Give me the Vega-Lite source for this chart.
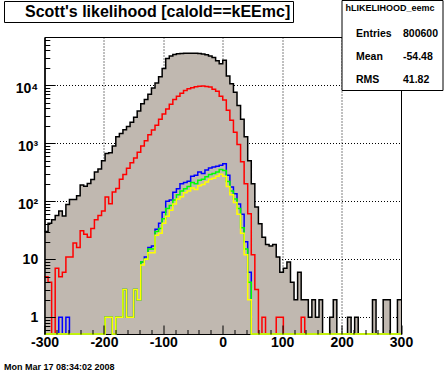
{
  "$schema": "https://vega.github.io/schema/vega-lite/v6.json",
  "width": 356.5,
  "height": 297,
  "autosize": {"type": "none"},
  "padding": {"left": 44.5, "top": 37, "right": 45, "bottom": 38},
  "background": "white",
  "config": {
    "view": {"stroke": "black", "strokeWidth": 1},
    "font": "Liberation Sans"
  },
  "title": {
    "text": "Mon Mar 17 08:34:02 2008",
    "orient": "bottom",
    "anchor": "start",
    "frame": "group",
    "font": "Liberation Sans",
    "fontWeight": "bold",
    "fontSize": 9,
    "color": "black",
    "dx": -40.5,
    "offset": 9
  },
  "datasets": {
    "h": [
      {"x": -300, "black": 30, "red": 5, "blue": 0, "green": 0, "yellow": 0},
      {"x": -294, "black": 42, "red": 4, "blue": 0, "green": 0, "yellow": 0},
      {"x": -288, "black": 48, "red": 0, "blue": 0, "green": 0, "yellow": 0},
      {"x": -282, "black": 57, "red": 7, "blue": 0, "green": 0, "yellow": 0},
      {"x": -276, "black": 68, "red": 5, "blue": 1, "green": 0, "yellow": 0},
      {"x": -270, "black": 56, "red": 6, "blue": 0, "green": 0, "yellow": 0},
      {"x": -264, "black": 88, "red": 11, "blue": 1, "green": 0, "yellow": 0},
      {"x": -258, "black": 107, "red": 11, "blue": 0, "green": 0, "yellow": 0},
      {"x": -252, "black": 107, "red": 19, "blue": 0, "green": 0, "yellow": 0},
      {"x": -246, "black": 125, "red": 16, "blue": 0, "green": 0, "yellow": 0},
      {"x": -240, "black": 190, "red": 31, "blue": 0, "green": 0, "yellow": 0},
      {"x": -234, "black": 181, "red": 27, "blue": 0, "green": 0, "yellow": 0},
      {"x": -228, "black": 202, "red": 24, "blue": 0, "green": 0, "yellow": 0},
      {"x": -222, "black": 237, "red": 34, "blue": 0, "green": 0, "yellow": 0},
      {"x": -216, "black": 320, "red": 48, "blue": 0, "green": 0, "yellow": 0},
      {"x": -210, "black": 360, "red": 57, "blue": 0, "green": 0, "yellow": 0},
      {"x": -204, "black": 500, "red": 68, "blue": 0, "green": 0, "yellow": 0},
      {"x": -198, "black": 665, "red": 119, "blue": 1, "green": 1, "yellow": 1},
      {"x": -192, "black": 690, "red": 91, "blue": 1, "green": 1, "yellow": 1},
      {"x": -186, "black": 900, "red": 145, "blue": 0, "green": 0, "yellow": 0},
      {"x": -180, "black": 1290, "red": 166, "blue": 1, "green": 1, "yellow": 1},
      {"x": -174, "black": 1470, "red": 240, "blue": 1, "green": 1, "yellow": 1},
      {"x": -168, "black": 1720, "red": 290, "blue": 3, "green": 3, "yellow": 3},
      {"x": -162, "black": 1950, "red": 370, "blue": 1, "green": 1, "yellow": 1},
      {"x": -156, "black": 2300, "red": 460, "blue": 1, "green": 1, "yellow": 1},
      {"x": -150, "black": 2800, "red": 560, "blue": 3, "green": 3, "yellow": 3},
      {"x": -144, "black": 3600, "red": 700, "blue": 2, "green": 2, "yellow": 2},
      {"x": -138, "black": 4800, "red": 900, "blue": 9, "green": 9, "yellow": 8},
      {"x": -132, "black": 5700, "red": 1110, "blue": 11, "green": 10, "yellow": 10},
      {"x": -126, "black": 7000, "red": 1400, "blue": 16, "green": 15, "yellow": 13},
      {"x": -120, "black": 9000, "red": 1700, "blue": 17, "green": 15, "yellow": 13},
      {"x": -114, "black": 11000, "red": 2050, "blue": 33, "green": 30, "yellow": 26},
      {"x": -108, "black": 14000, "red": 2600, "blue": 42, "green": 34, "yellow": 28},
      {"x": -102, "black": 19500, "red": 3200, "blue": 65, "green": 50, "yellow": 42},
      {"x": -96, "black": 29000, "red": 3900, "blue": 100, "green": 75, "yellow": 55},
      {"x": -90, "black": 32000, "red": 4700, "blue": 105, "green": 85, "yellow": 70},
      {"x": -84, "black": 33800, "red": 5700, "blue": 143, "green": 105, "yellow": 90},
      {"x": -78, "black": 34800, "red": 6500, "blue": 165, "green": 130, "yellow": 110},
      {"x": -72, "black": 35300, "red": 7300, "blue": 200, "green": 150, "yellow": 120},
      {"x": -66, "black": 35500, "red": 8100, "blue": 210, "green": 165, "yellow": 140},
      {"x": -60, "black": 35600, "red": 8700, "blue": 221, "green": 180, "yellow": 150},
      {"x": -54, "black": 35600, "red": 9100, "blue": 270, "green": 210, "yellow": 170},
      {"x": -48, "black": 35500, "red": 9400, "blue": 280, "green": 200, "yellow": 160},
      {"x": -42, "black": 35300, "red": 9600, "blue": 320, "green": 230, "yellow": 185},
      {"x": -36, "black": 34500, "red": 9700, "blue": 300, "green": 240, "yellow": 195},
      {"x": -30, "black": 33500, "red": 9500, "blue": 345, "green": 265, "yellow": 215},
      {"x": -24, "black": 32000, "red": 9340, "blue": 376, "green": 290, "yellow": 240},
      {"x": -18, "black": 30000, "red": 8530, "blue": 390, "green": 300, "yellow": 250},
      {"x": -12, "black": 26500, "red": 7880, "blue": 400, "green": 320, "yellow": 270},
      {"x": -6, "black": 23500, "red": 6500, "blue": 420, "green": 352, "yellow": 292},
      {"x": 0, "black": 27000, "red": 5600, "blue": 445, "green": 340, "yellow": 270},
      {"x": 6, "black": 14500, "red": 3700, "blue": 280, "green": 220, "yellow": 180},
      {"x": 12, "black": 10600, "red": 2500, "blue": 177, "green": 150, "yellow": 130},
      {"x": 18, "black": 7600, "red": 1550, "blue": 135, "green": 110, "yellow": 95},
      {"x": 24, "black": 4500, "red": 950, "blue": 90, "green": 75, "yellow": 60},
      {"x": 30, "black": 2600, "red": 480, "blue": 60, "green": 35, "yellow": 28},
      {"x": 36, "black": 1300, "red": 200, "blue": 20, "green": 15, "yellow": 12},
      {"x": 42, "black": 500, "red": 61, "blue": 6, "green": 4, "yellow": 2},
      {"x": 48, "black": 200, "red": 12, "blue": 0, "green": 0, "yellow": 0},
      {"x": 54, "black": 80, "red": 3, "blue": 0, "green": 0, "yellow": 0},
      {"x": 60, "black": 41, "red": 0, "blue": 0, "green": 0, "yellow": 0},
      {"x": 66, "black": 24, "red": 1, "blue": 0, "green": 0, "yellow": 0},
      {"x": 72, "black": 18, "red": 0, "blue": 0, "green": 0, "yellow": 0},
      {"x": 78, "black": 17, "red": 0, "blue": 0, "green": 0, "yellow": 0},
      {"x": 84, "black": 18, "red": 0, "blue": 0, "green": 0, "yellow": 0},
      {"x": 90, "black": 11, "red": 1, "blue": 0, "green": 0, "yellow": 0},
      {"x": 96, "black": 6, "red": 1, "blue": 0, "green": 0, "yellow": 0},
      {"x": 102, "black": 7, "red": 0, "blue": 0, "green": 0, "yellow": 0},
      {"x": 108, "black": 9, "red": 0, "blue": 0, "green": 0, "yellow": 0},
      {"x": 114, "black": 4, "red": 0, "blue": 0, "green": 0, "yellow": 0},
      {"x": 120, "black": 2, "red": 0, "blue": 0, "green": 0, "yellow": 0},
      {"x": 126, "black": 6, "red": 0, "blue": 0, "green": 0, "yellow": 0},
      {"x": 132, "black": 2, "red": 1, "blue": 0, "green": 0, "yellow": 0},
      {"x": 138, "black": 2, "red": 0, "blue": 0, "green": 0, "yellow": 0},
      {"x": 144, "black": 1, "red": 0, "blue": 0, "green": 0, "yellow": 0},
      {"x": 150, "black": 2, "red": 0, "blue": 0, "green": 0, "yellow": 0},
      {"x": 156, "black": 1, "red": 0, "blue": 0, "green": 0, "yellow": 0},
      {"x": 162, "black": 2, "red": 0, "blue": 0, "green": 0, "yellow": 0},
      {"x": 168, "black": 0, "red": 0, "blue": 0, "green": 0, "yellow": 0},
      {"x": 174, "black": 0, "red": 0, "blue": 0, "green": 0, "yellow": 0},
      {"x": 180, "black": 1, "red": 0, "blue": 0, "green": 0, "yellow": 0},
      {"x": 186, "black": 2, "red": 0, "blue": 0, "green": 0, "yellow": 0},
      {"x": 192, "black": 0, "red": 0, "blue": 0, "green": 0, "yellow": 0},
      {"x": 198, "black": 0, "red": 0, "blue": 0, "green": 0, "yellow": 0},
      {"x": 204, "black": 0, "red": 0, "blue": 0, "green": 0, "yellow": 0},
      {"x": 210, "black": 1, "red": 0, "blue": 0, "green": 0, "yellow": 0},
      {"x": 216, "black": 0, "red": 0, "blue": 0, "green": 0, "yellow": 0},
      {"x": 222, "black": 1, "red": 0, "blue": 0, "green": 0, "yellow": 0},
      {"x": 228, "black": 0, "red": 0, "blue": 0, "green": 0, "yellow": 0},
      {"x": 234, "black": 0, "red": 0, "blue": 0, "green": 0, "yellow": 0},
      {"x": 240, "black": 0, "red": 0, "blue": 0, "green": 0, "yellow": 0},
      {"x": 246, "black": 0, "red": 0, "blue": 0, "green": 0, "yellow": 0},
      {"x": 252, "black": 2, "red": 0, "blue": 0, "green": 0, "yellow": 0},
      {"x": 258, "black": 0, "red": 0, "blue": 0, "green": 0, "yellow": 0},
      {"x": 264, "black": 0, "red": 0, "blue": 0, "green": 0, "yellow": 0},
      {"x": 270, "black": 2, "red": 0, "blue": 0, "green": 0, "yellow": 0},
      {"x": 276, "black": 2, "red": 0, "blue": 0, "green": 0, "yellow": 0},
      {"x": 282, "black": 0, "red": 0, "blue": 0, "green": 0, "yellow": 0},
      {"x": 288, "black": 0, "red": 0, "blue": 0, "green": 0, "yellow": 0},
      {"x": 294, "black": 2, "red": 0, "blue": 0, "green": 0, "yellow": 0},
      {"x": 300, "black": 2, "red": 0, "blue": 0, "green": 0, "yellow": 0}
    ],
    "t": [{"t": "Scott's likelihood [caloId==kEEmc]"}],
    "s": [
      {"s": "Entries"}, {"s": "Mean"}, {"s": "RMS"},
      {"s": "800600"}, {"s": "-54.48"}, {"s": "41.82"}
    ]
  },
  "layer": [
    {
      "data": {"name": "h"},
      "mark": {"type": "area", "interpolate": "step-after", "color": "#c0b8b0"},
      "encoding": {
        "x": {"field": "x", "type": "quantitative",
              "scale": {"domain": [-300, 300], "nice": false, "zero": false},
              "axis": {"orient": "bottom", "zindex": 0, "grid": true, "gridDash": [1, 2], "gridColor": "black", "gridWidth": 1, "gridOpacity": 1,
                       "values": [-200, -100, 0, 100, 200], "ticks": false, "labels": false, "domain": false, "title": null}},
        "y": {"field": "black", "type": "quantitative",
              "scale": {"type": "log", "domain": [0.515, 68000], "clamp": true, "nice": false},
              "axis": {"orient": "left", "zindex": 0, "grid": true, "gridDash": [1, 2], "gridColor": "black", "gridWidth": 1, "gridOpacity": 1,
                       "values": [1, 10, 100, 1000, 10000], "ticks": false, "labels": false, "domain": false, "title": null}}
      }
    },
    {
      "data": {"name": "h"},
      "mark": {"type": "line", "interpolate": "step-after", "color": "black", "strokeWidth": 1.5},
      "encoding": {
        "x": {"field": "x", "type": "quantitative",
              "scale": {"domain": [-300, 300], "nice": false, "zero": false},
              "axis": {"orient": "bottom", "zindex": 1, "grid": false, "domain": false, "title": null,
                       "values": [-300, -280, -260, -240, -220, -200, -180, -160, -140, -120, -100, -80, -60, -40, -20, 0, 20, 40, 60, 80, 100, 120, 140, 160, 180, 200, 220, 240, 260, 280, 300],
                       "tickSize": {"condition": {"test": "datum.value % 100 === 0", "value": -9}, "value": -4.5},
                       "tickColor": "black", "tickWidth": 1,
                       "labelExpr": "datum.value % 100 === 0 ? '' + datum.value : ''",
                       "labelFont": "Liberation Sans", "labelFontWeight": "bold", "labelFontSize": 14, "labelColor": "black",
                       "labelPadding": 10, "labelOverlap": false, "labelFlush": false}},
        "y": {"field": "black", "type": "quantitative",
              "scale": {"type": "log", "domain": [0.515, 68000], "clamp": true, "nice": false},
              "axis": {"orient": "left", "zindex": 1, "grid": false, "domain": true, "domainColor": "black", "domainWidth": 1.5, "title": null,
                       "values": [0.6, 0.7, 0.8, 0.9, 1, 2, 3, 4, 5, 6, 7, 8, 9, 10, 20, 30, 40, 50, 60, 70, 80, 90, 100, 200, 300, 400, 500, 600, 700, 800, 900, 1000, 2000, 3000, 4000, 5000, 6000, 7000, 8000, 9000, 10000, 20000, 30000, 40000, 50000, 60000],
                       "tickSize": {"condition": {"test": "datum.value === 1 || datum.value === 10 || datum.value === 100 || datum.value === 1000 || datum.value === 10000", "value": -10.7}, "value": -5.3},
                       "tickColor": "black", "tickWidth": 1,
                       "labelExpr": "datum.value === 1 ? '1' : datum.value === 10 ? '10' : datum.value === 100 ? '10\u00b2' : datum.value === 1000 ? '10\u00b3' : datum.value === 10000 ? '10\u2074' : ''",
                       "labelOffset": {"condition": {"test": "datum.value >= 100", "value": 3}, "value": 0},
                       "labelFont": "Liberation Sans", "labelFontWeight": "bold", "labelFontSize": 14, "labelColor": "black",
                       "labelPadding": 17.5, "labelOverlap": false, "labelFlush": false}}
      }
    },
    {
      "data": {"name": "h"},
      "mark": {"type": "line", "interpolate": "step-after", "color": "#ff0000", "strokeWidth": 1.5},
      "encoding": {
        "x": {"field": "x", "type": "quantitative", "scale": {"domain": [-300, 300], "nice": false, "zero": false}, "axis": null},
        "y": {"field": "red", "type": "quantitative", "scale": {"type": "log", "domain": [0.515, 68000], "clamp": true, "nice": false}, "axis": null}
      }
    },
    {
      "data": {"name": "h"},
      "mark": {"type": "line", "interpolate": "step-after", "color": "#0000ff", "strokeWidth": 1.5},
      "encoding": {
        "x": {"field": "x", "type": "quantitative", "scale": {"domain": [-300, 300], "nice": false, "zero": false}, "axis": null},
        "y": {"field": "blue", "type": "quantitative", "scale": {"type": "log", "domain": [0.515, 68000], "clamp": true, "nice": false}, "axis": null}
      }
    },
    {
      "data": {"name": "h"},
      "mark": {"type": "line", "interpolate": "step-after", "color": "#00ff00", "strokeWidth": 1.5},
      "encoding": {
        "x": {"field": "x", "type": "quantitative", "scale": {"domain": [-300, 300], "nice": false, "zero": false}, "axis": null},
        "y": {"field": "green", "type": "quantitative", "scale": {"type": "log", "domain": [0.515, 68000], "clamp": true, "nice": false}, "axis": null}
      }
    },
    {
      "data": {"name": "h"},
      "mark": {"type": "line", "interpolate": "step-after", "color": "#ffff00", "strokeWidth": 1.5},
      "encoding": {
        "x": {"field": "x", "type": "quantitative", "scale": {"domain": [-300, 300], "nice": false, "zero": false}, "axis": null},
        "y": {"field": "yellow", "type": "quantitative", "scale": {"type": "log", "domain": [0.515, 68000], "clamp": true, "nice": false}, "axis": null}
      }
    },
    {
      "data": {"name": "t"},
      "mark": {"type": "point", "opacity": 0, "size": 0.01},
      "encoding": {
        "shape": {"field": "t", "type": "nominal",
                  "legend": {"orient": "none", "legendX": -40.5, "legendY": -36, "title": null,
                             "strokeColor": "black", "fillColor": "white", "padding": 2.5,
                             "symbolSize": 0.01, "symbolOpacity": 0, "symbolStrokeWidth": 0,
                             "labelOffset": 2.5, "labelLimit": 500,
                             "labelExpr": "datum.label + '\u00a0\u00a0\u00a0'",
                             "labelFont": "Liberation Sans", "labelFontWeight": "bold", "labelFontSize": 16, "labelColor": "black"}}
      }
    },
    {
      "data": {"name": "s"},
      "mark": {"type": "point", "opacity": 0, "size": 0.01},
      "encoding": {
        "color": {"field": "s", "type": "nominal", "sort": null,
                  "legend": {"orient": "none", "legendX": 297, "legendY": -37,
                             "title": "hLIKELIHOOD_eemc", "titleFont": "Liberation Sans", "titleFontWeight": "bold", "titleFontSize": 9, "titleColor": "black",
                             "titlePadding": 15.5, "titleAnchor": "start",
                             "columns": 2, "columnPadding": 0, "rowPadding": 12,
                             "strokeColor": "black", "fillColor": "white", "padding": 4,
                             "symbolSize": 0.01, "symbolOpacity": 0, "symbolStrokeWidth": 0,
                             "labelOffset": 0, "labelLimit": 200,
                             "labelExpr": "datum.label === '-54.48' ? '\u2007' + datum.label : datum.label === '41.82' ? '\u2007\u2008' + datum.label : datum.label",
                             "labelFont": "Liberation Sans", "labelFontWeight": "bold", "labelFontSize": 10.5, "labelColor": "black"}}
      }
    }
  ],
  "resolve": {"axis": {"x": "independent", "y": "independent"}}
}
